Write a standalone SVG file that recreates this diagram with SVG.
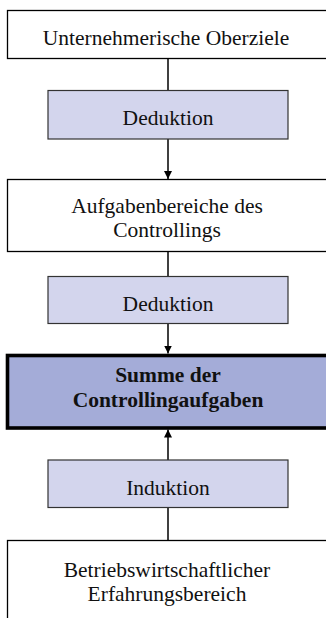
<svg xmlns="http://www.w3.org/2000/svg" width="326" height="618" viewBox="0 0 326 618">
  <style>
    .box { fill: #ffffff; stroke: #000000; stroke-width: 1.3; }
    .step { fill: #d3d5ed; stroke: #333333; stroke-width: 1.2; }
    .sum { fill: #a4acd8; stroke: #000000; stroke-width: 3.6; }
    .lbl { font-family: "Liberation Serif", "Times New Roman", serif; font-size: 21.5px; fill: #111111; text-anchor: middle; }
    .bold { font-weight: bold; }
    .conn { stroke: #000000; stroke-width: 1.5; fill: none; }
  </style>
  <defs>
    <marker id="arrow" viewBox="0 0 8 8" refX="8" refY="4" markerWidth="8" markerHeight="8" markerUnits="userSpaceOnUse" orient="auto">
      <path d="M0,0 L8,4 L0,8 Z" fill="#000000"/>
    </marker>
  </defs>
  <rect width="326" height="618" fill="#ffffff"/>

  <!-- connectors -->
  <g id="connectors">
    <line class="conn" x1="168" y1="59" x2="168" y2="90"/>
    <line class="conn" x1="168" y1="139" x2="168" y2="179" marker-end="url(#arrow)"/>
    <line class="conn" x1="168" y1="252" x2="168" y2="277"/>
    <line class="conn" x1="168" y1="323" x2="168" y2="353.5" marker-end="url(#arrow)"/>
    <line class="conn" x1="168" y1="460" x2="168" y2="429.5" marker-end="url(#arrow)" stroke="#333333"/>
    <line class="conn" x1="168" y1="507" x2="168" y2="541"/>
  </g>

  <g id="oberziele">
    <rect class="box" x="7.5" y="10.5" width="330" height="48"/>
    <text class="lbl" x="166" y="45">Unternehmerische Oberziele</text>
  </g>

  <g id="deduktion1">
    <rect class="step" x="48" y="90.5" width="240" height="48.5"/>
    <text class="lbl" x="168" y="125">Deduktion</text>
  </g>

  <g id="aufgabenbereiche">
    <rect class="box" x="7.5" y="179.5" width="330" height="72"/>
    <text class="lbl" x="167" y="213">Aufgabenbereiche des</text>
    <text class="lbl" x="167" y="237">Controllings</text>
  </g>

  <g id="deduktion2">
    <rect class="step" x="48" y="276.5" width="240" height="47"/>
    <text class="lbl" x="168" y="310.5">Deduktion</text>
  </g>

  <g id="summe">
    <rect class="sum" x="7.5" y="355.5" width="330" height="72.5"/>
    <text class="lbl bold" x="168" y="382">Summe der</text>
    <text class="lbl bold" x="168" y="407">Controllingaufgaben</text>
  </g>

  <g id="induktion">
    <rect class="step" x="48" y="460" width="240" height="47.5"/>
    <text class="lbl" x="168" y="494.5">Induktion</text>
  </g>

  <g id="erfahrungsbereich">
    <rect class="box" x="7.5" y="540.5" width="330" height="100"/>
    <text class="lbl" x="167" y="577">Betriebswirtschaftlicher</text>
    <text class="lbl" x="167" y="600.5">Erfahrungsbereich</text>
  </g>
</svg>
